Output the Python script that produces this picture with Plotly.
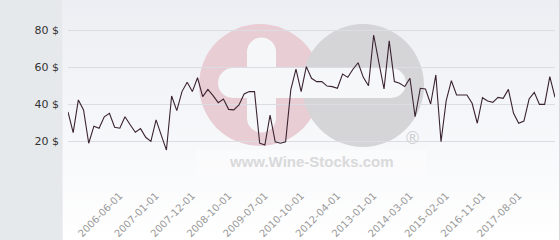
import base64
import plotly.graph_objects as go

# ---------------- data ----------------
dates = [
    "2005-08-01", "2005-09-01", "2005-10-01", "2005-11-01", "2005-12-01",
    "2006-01-01", "2006-02-01", "2006-03-01", "2006-04-01", "2006-05-01",
    "2006-06-01", "2006-07-01", "2006-08-01", "2006-09-01", "2006-10-01",
    "2006-11-01", "2006-12-01", "2007-01-01", "2007-02-01", "2007-03-01",
    "2007-05-01", "2007-06-01", "2007-08-01", "2007-10-01", "2007-12-01",
    "2008-01-01", "2008-02-01", "2008-04-01", "2008-05-01", "2008-07-01",
    "2008-09-01", "2008-10-01", "2008-11-01", "2008-12-01", "2009-01-01",
    "2009-03-01", "2009-04-01", "2009-06-01", "2009-07-01", "2009-09-01",
    "2009-11-01", "2010-01-01", "2010-03-01", "2010-05-01", "2010-08-01",
    "2010-10-01", "2011-01-01", "2011-03-01", "2011-06-01", "2011-08-01",
    "2011-11-01", "2012-01-01", "2012-04-01", "2012-05-01", "2012-06-01",
    "2012-08-01", "2012-09-01", "2012-10-01", "2012-12-01", "2013-01-01",
    "2013-03-01", "2013-05-01", "2013-07-01", "2013-09-01", "2013-11-01",
    "2014-01-01", "2014-03-01", "2014-04-01", "2014-06-01", "2014-07-01",
    "2014-09-01", "2014-11-01", "2014-12-01", "2015-02-01", "2015-05-01",
    "2015-08-01", "2015-11-01", "2016-02-01", "2016-05-01", "2016-08-01",
    "2016-11-01", "2016-12-01", "2017-01-01", "2017-03-01", "2017-04-01",
    "2017-05-01", "2017-07-01", "2017-08-01", "2017-09-01", "2017-10-01",
    "2017-11-01", "2017-12-01", "2018-01-01", "2018-02-01", "2018-03-01",
]
prices = [
    35.7, 24.5, 42.2, 36.8, 18.8, 28.0, 26.9, 33.1, 35.0, 27.4,
    26.9, 33.1, 28.8, 24.7, 26.7, 22.0, 19.8, 31.4, 23.2, 15.1,
    44.3, 36.4, 46.7, 51.7, 46.7, 54.2, 44.0, 47.9, 44.5, 40.7,
    42.7, 37.1, 36.8, 39.5, 45.4, 46.7, 46.7, 18.8, 17.8, 34.0,
    19.6, 18.8, 19.6, 47.6, 58.8, 46.7, 60.2, 53.9, 52.1, 52.1,
    49.7, 49.4, 48.5, 56.2, 54.4, 58.8, 62.3, 54.4, 49.9, 77.3,
    62.5, 48.1, 74.1, 52.1, 51.2, 49.4, 53.9, 33.1, 48.5, 48.1,
    40.0, 55.7, 19.6, 41.8, 52.6, 44.9, 44.9, 44.9, 40.4, 29.6,
    43.4, 41.6, 40.9, 43.6, 43.1, 47.9, 35.0, 29.6, 30.8, 42.7,
    46.3, 39.8, 39.8, 54.8, 43.6,
]
x_tick_labels = [
    "2006-06-01", "2007-01-01", "2007-12-01", "2008-10-01", "2009-07-01",
    "2010-10-01", "2012-04-01", "2013-01-01", "2014-03-01", "2015-02-01",
    "2016-11-01", "2017-08-01",
]
y_tick_values = [0, 20, 40, 60, 80]
y_tick_labels = ["", "20 $", "40 $", "60 $", "80 $"]

# ---------------- layout helpers ----------------
W, H = 560, 240
L, R, T, B = 68, 5, 12, 62
PW, PH = W - L - R, H - T - B
Y_TOP = 80 + (30 - T) * 20 / 37


def px(x):
    return (x - L) / PW


def py(y):
    return (H - B - y) / PH


svg = (
    '<svg xmlns="http://www.w3.org/2000/svg" width="100" height="100" preserveAspectRatio="none">'
    '<defs><linearGradient id="g" x1="0" y1="0" x2="0" y2="1">'
    '<stop offset="0" stop-color="#eceef3"/><stop offset="1" stop-color="#ffffff"/>'
    '</linearGradient></defs><rect width="100" height="100" fill="url(#g)"/></svg>'
)
svg_uri = "data:image/svg+xml;base64," + base64.b64encode(svg.encode()).decode()

fig = go.Figure()
fig.add_trace(go.Scatter(
    x=dates, y=prices, mode="lines",
    line=dict(color="#3a2330", width=1.1),
    hoverinfo="skip", showlegend=False,
))

shapes = []
# left grey panel
shapes.append(dict(type="rect", xref="paper", yref="paper", layer="below",
                   x0=px(0), x1=px(62.7), y0=py(H), y1=py(0),
                   fillcolor="#e6e9ec", line=dict(width=0)))
# right border
shapes.append(dict(type="line", xref="paper", yref="paper", layer="below",
                   x0=px(559.5), x1=px(559.5), y0=py(H), y1=py(0),
                   line=dict(color="#d6d8dc", width=1)))
# watermark: pink circle, grey circle
shapes.append(dict(type="circle", xref="paper", yref="paper", layer="below",
                   x0=px(199), x1=px(321), y0=py(146), y1=py(24),
                   fillcolor="#e9cdd4", line=dict(width=0)))
shapes.append(dict(type="circle", xref="paper", yref="paper", layer="below",
                   x0=px(302), x1=px(424), y0=py(147), y1=py(24),
                   fillcolor="#d5d5d7", line=dict(width=0)))
# white bars (plus / minus)
shapes.append(dict(type="rect", xref="paper", yref="paper", layer="below",
                   x0=px(232), x1=px(392), y0=py(98), y1=py(68),
                   fillcolor="#f6f7f9", line=dict(width=0)))
for cx in (233, 391):
    shapes.append(dict(type="circle", xref="paper", yref="paper", layer="below",
                       x0=px(cx - 15), x1=px(cx + 15), y0=py(98), y1=py(68),
                       fillcolor="#f6f7f9", line=dict(width=0)))
shapes.append(dict(type="rect", xref="paper", yref="paper", layer="below",
                   x0=px(247), x1=px(276), y0=py(118), y1=py(52),
                   fillcolor="#f6f7f9", line=dict(width=0)))
for cy in (52, 118):
    shapes.append(dict(type="circle", xref="paper", yref="paper", layer="below",
                       x0=px(247), x1=px(276), y0=py(cy + 14.5), y1=py(cy - 14.5),
                       fillcolor="#f6f7f9", line=dict(width=0)))
# faint light band behind watermark text
shapes.append(dict(type="rect", xref="paper", yref="paper", layer="below",
                   x0=px(196), x1=px(427), y0=py(174), y1=py(150),
                   fillcolor="rgba(255,255,255,0.3)", line=dict(width=0)))

annotations = [
    dict(text="www.Wine-Stocks.com", xref="paper", yref="paper",
         x=px(311.5), y=py(161.5), xanchor="center", yanchor="middle",
         showarrow=False,
         font=dict(family="Liberation Sans, Arial, sans-serif", size=15,
                   color="#d9d9db", weight="bold")),
    dict(text="®", xref="paper", yref="paper",
         x=px(412), y=py(138), xanchor="center", yanchor="middle",
         showarrow=False,
         font=dict(family="DejaVu Sans, sans-serif", size=17, color="#cfcfd2")),
]

fig.update_layout(
    width=W, height=H,
    margin=dict(l=L, r=R, t=T, b=B, pad=0, autoexpand=False),
    paper_bgcolor="#ffffff",
    plot_bgcolor="rgba(0,0,0,0)",
    images=[dict(source=svg_uri, xref="paper", yref="paper",
                 x=px(62.7), y=py(0), sizex=(559 - 62.7) / PW, sizey=H / PH,
                 xanchor="left", yanchor="top", sizing="stretch", layer="below")],
    shapes=shapes,
    annotations=annotations,
    xaxis=dict(
        type="category", automargin=False,
        range=[0, len(dates) - 1],
        tickmode="array", tickvals=x_tick_labels, ticktext=x_tick_labels,
        tickangle=-45, showgrid=False, zeroline=False, showline=False,
        ticks="", ticklabelstandoff=9,
        tickfont=dict(family="DejaVu Sans, sans-serif", size=10, color="#999999"),
    ),
    yaxis=dict(
        automargin=False,
        range=[0, Y_TOP],
        tickmode="array", tickvals=y_tick_values, ticktext=y_tick_labels,
        showgrid=True, gridcolor="#dcdde2", gridwidth=1,
        zeroline=False, showline=False, ticks="", ticklabelstandoff=8,
        tickfont=dict(family="DejaVu Sans, sans-serif", size=11, color="#333333"),
    ),
)

fig.write_html("out.html")
